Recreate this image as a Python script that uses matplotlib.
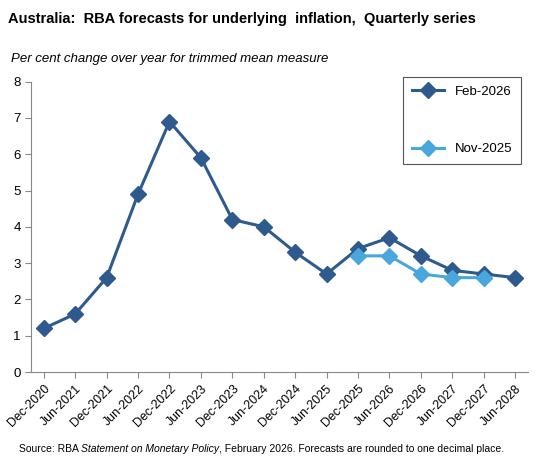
import matplotlib
matplotlib.use("Agg")
import matplotlib.pyplot as plt

plt.rcParams["font.family"] = ["Liberation Sans", "DejaVu Sans"]

periods = ["Dec-2020", "Jun-2021", "Dec-2021", "Jun-2022", "Dec-2022", "Jun-2023",
           "Dec-2023", "Jun-2024", "Dec-2024", "Jun-2025", "Dec-2025", "Jun-2026",
           "Dec-2026", "Jun-2027", "Dec-2027", "Jun-2028"]
feb_2026 = [1.2, 1.6, 2.6, 4.9, 6.9, 5.9, 4.2, 4.0, 3.3, 2.7, 3.4, 3.7, 3.2, 2.8, 2.7, 2.6]
nov_periods = ["Dec-2025", "Jun-2026", "Dec-2026", "Jun-2027", "Dec-2027"]
nov_2025 = [3.2, 3.2, 2.7, 2.6, 2.6]

dark = "#2E5A8E"
light = "#49A7DD"

fig = plt.figure(figsize=(5.48, 4.73), dpi=100)
ax = fig.add_axes([0.057, 0.2135, 0.906, 0.614])

x_feb = list(range(len(periods)))
x_nov = [periods.index(p) for p in nov_periods]
ax.plot(x_feb, feb_2026, color=dark, lw=2.2, marker="D", ms=8, label="Feb-2026", zorder=2)
ax.plot(x_nov, nov_2025, color=light, lw=2.2, marker="D", ms=8, label="Nov-2025", zorder=3)

ax.set_xlim(-0.4, 15.4)
ax.set_ylim(0, 8)
ax.set_yticks(range(0, 9))
ax.set_xticks(x_feb)
ax.set_xticklabels(periods, rotation=45, ha="right", rotation_mode="anchor", fontsize=9)
ax.tick_params(axis="y", labelsize=9.5, direction="out", length=4, color="#888888")
ax.tick_params(axis="x", length=4, color="#888888")
for s in ["top", "right"]:
    ax.spines[s].set_visible(False)
for s in ["left", "bottom"]:
    ax.spines[s].set_color("#888888")

leg = ax.legend(loc="upper right", bbox_to_anchor=(1.0, 1.04), labelspacing=3.4,
                fontsize=9.5, fancybox=False, edgecolor="#555555", handlelength=2.4,
                borderpad=0.7, framealpha=1)
leg.get_frame().set_linewidth(0.8)

fig.text(0.015, 0.96, "Australia:  RBA forecasts for underlying  inflation,  Quarterly series",
         fontsize=10.5, fontweight="bold", va="center")
fig.text(0.02, 0.875, "Per cent change over year for trimmed mean measure",
         fontsize=9.5, style="italic", va="center")

# source line in three runs, placed one after another
renderer = fig.canvas.get_renderer()
x = 0.035
for part, style in [("Source: RBA ", "normal"), ("Statement on Monetary Policy", "italic"),
                    (", February 2026. Forecasts are rounded to one decimal place.", "normal")]:
    t = fig.text(x, 0.05, part, fontsize=7.5, style=style, va="center")
    bb = t.get_window_extent(renderer)
    x += bb.width / fig.bbox.width

fig.savefig("out.png", dpi=100)
